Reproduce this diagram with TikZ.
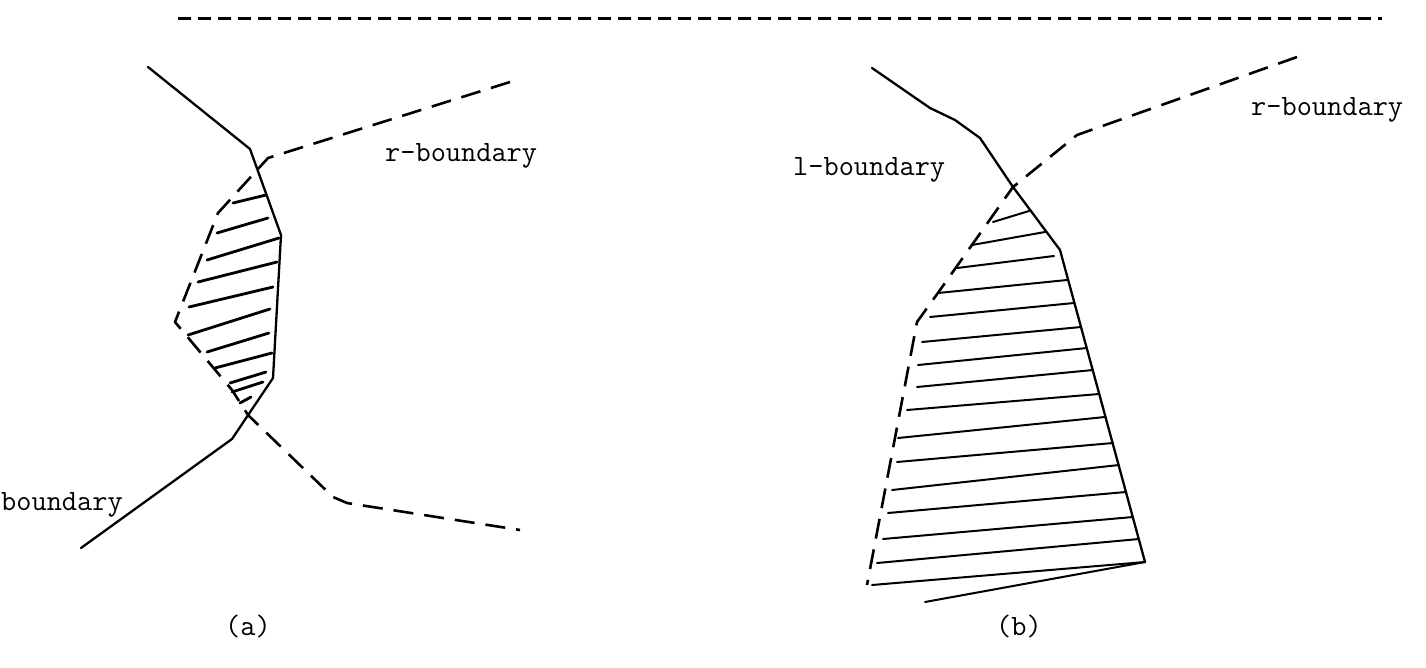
\documentclass[tikz,border=0pt]{standalone}
\usepackage{fontspec}
\begin{document}
\begin{tikzpicture}[x=1pt,y=-1pt,
  solidline/.style={line width=2.3pt, line join=round, line cap=round},
  dashline/.style={line width=2.6pt, line join=round, dash pattern=on 20pt off 11pt},
  topdash/.style={line width=3pt, dash pattern=on 13pt off 7pt},
  hatcha/.style={line width=2.8pt, line cap=round},
  hatchb/.style={line width=2pt, line cap=round},
  lbl/.style={font=\ttfamily\fontsize{29.5}{34}\selectfont, inner sep=0pt, anchor=base west},
  caplbl/.style={font=\ttfamily\fontsize{29.5}{34}\selectfont, inner sep=0pt, anchor=base}]
\useasboundingbox (0,0) rectangle (1426,667);

% top dashed rule
\coordinate (tl) at (178,18);
\coordinate (tr) at (1382,18);
\draw[topdash] (tl) -- (tr);

% ---------------- (a) ----------------
\draw[solidline] (148,67) -- (250,149) -- (281,235) -- (273,378) -- (232,439) -- (81,548);
\draw[dashline] (510,82) -- (268,158) -- (218,213) -- (175,322) -- (232,390) -- (248,415) -- (333,497) -- (347,503) -- (520,530);
\foreach \xa/\ya/\xb/\yb in {
  233/203/266/195, 217/233/268/218, 207/260/279/238, 198/282/277/262,
  189/307/273/287, 188/335/270/309, 207/352/269/333, 215/368/272/353,
  230/383/266/372, 232/392/263/382, 240/403/251/397}
  \draw[hatcha] (\xa,\ya) -- (\xb,\yb);

\node[lbl] (ra) at (385,161) {r-boundary};
\node[lbl] (la) at (1,510) {boundary};
\node[caplbl] (capa) at (248,635) {(a)};

% ---------------- (b) ----------------
\draw[solidline] (872,68) -- (930,108) -- (955,120) -- (980,138) -- (1013,187) -- (1060,250) -- (1145,562);
\draw[dashline] (1297,57) -- (1077,135) -- (1013,187) -- (940,290) -- (917,322) -- (867,585);
\foreach \xa/\ya/\xb/\yb in {
  993/222/1029/211, 972/245/1045/232, 957/268/1054/256, 938/293/1067/280,
  930/317/1074/303, 922/342/1081/327, 918/365/1087/348, 917/387/1093/370,
  907/410/1099/394, 898/438/1105/417, 897/462/1113/443, 892/490/1119/465,
  888/513/1126/492, 883/539/1133/517, 877/563/1139/539, 872/585/1145/562,
  925/602/1145/562}
  \draw[hatchb] (\xa,\ya) -- (\xb,\yb);

\node[lbl] (lb) at (793,175) {l-boundary};
\node[lbl] (rb) at (1251,115) {r-boundary};
\node[caplbl] (capb) at (1019,635) {(b)};
\end{tikzpicture}
\end{document}
